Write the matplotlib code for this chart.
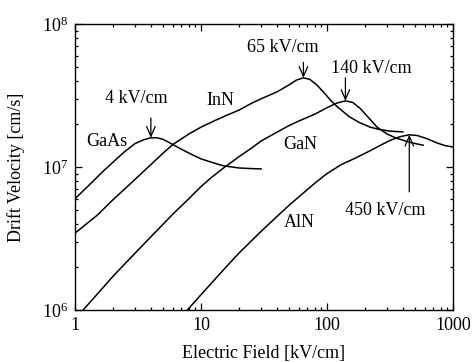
import matplotlib
matplotlib.use("Agg")
import matplotlib.pyplot as plt
import numpy as np

plt.rcParams["font.family"] = ["Liberation Serif", "DejaVu Serif"]
plt.rcParams["mathtext.fontset"] = "custom"
plt.rcParams["mathtext.rm"] = "Liberation Serif"
plt.rcParams["mathtext.it"] = "Liberation Serif:italic"

# ── data (field in kV/cm, velocity in 1e6 cm/s) ──────────────────────────────
GAAS_E = [1, 1.3, 1.6, 2, 2.5, 3, 3.5, 4, 4.5, 5, 5.7, 7, 8.5, 10, 12.5, 15, 20, 25, 30]
GAAS_V = [6.0, 7.5, 9.0, 10.8, 12.9, 14.6, 15.5, 16.0, 16.0, 15.6, 14.7, 13.3,
          12.2, 11.4, 10.7, 10.2, 9.85, 9.75, 9.7]

INN_E = [1, 1.5, 2, 3, 4, 5, 6, 8, 10, 13, 16, 20, 25, 30, 40, 50, 57, 65, 73, 83,
         95, 106, 120, 150, 180, 220, 260, 320, 400]
INN_V = [3.45, 4.6, 5.9, 8.2, 10.4, 12.5, 14.4, 17.0, 19.0, 21.2, 23.0, 25.0, 27.8,
         30.0, 33.5, 37.5, 40.5, 42.0, 41.0, 37.5, 33.0, 29.5, 26.5, 22.5, 20.5,
         19.0, 18.3, 17.8, 17.6]

GAN_E = [1.16, 1.5, 2, 3, 4, 6, 8, 10, 12, 15, 20, 25, 30, 40, 50, 60, 80, 100,
         120, 140, 160, 185, 210, 250, 300, 350, 450, 580]
GAN_V = [1.0, 1.29, 1.72, 2.5, 3.25, 4.7, 6.0, 7.3, 8.4, 9.8, 11.8, 13.5, 15.2,
         17.5, 19.5, 21.0, 23.4, 26.0, 28.0, 29.0, 28.3, 25.5, 22.5, 19.0, 17.0,
         16.0, 14.9, 14.2]

ALN_E = [7.8, 10, 15, 20, 30, 40, 50, 60, 80, 100, 130, 170, 220, 270, 320, 380,
         450, 520, 620, 750, 870, 1000]
ALN_V = [1.0, 1.28, 1.9, 2.5, 3.55, 4.5, 5.4, 6.2, 7.7, 9.0, 10.4, 11.6, 13.0,
         14.3, 15.4, 16.3, 16.8, 16.6, 15.8, 14.7, 14.1, 13.8]

CURVES = [("GaAs", GAAS_E, GAAS_V), ("InN", INN_E, INN_V),
          ("GaN", GAN_E, GAN_V), ("AlN", ALN_E, ALN_V)]

fig = plt.figure(figsize=(4.73, 3.62), dpi=100)
ax = fig.add_axes([0.1586, 0.1436, 0.7991, 0.7901])

for name, e, v in CURVES:
    ax.plot(e, np.array(v) * 1e6, color="black", lw=1.1)

ax.set_xscale("log")
ax.set_yscale("log")
ax.set_xlim(1, 1000)
ax.set_ylim(1e6, 1e8)
ax.set_xticks([1, 10, 100, 1000])
ax.set_xticklabels(["1", "10", "100", "1000"])

ax.tick_params(which="both", direction="in", top=True, right=True, labelsize=13,
               width=0.9)
ax.tick_params(which="major", length=5, pad=5)
ax.tick_params(which="minor", length=2.5)
for s in ax.spines.values():
    s.set_linewidth(1.0)

ax.set_xlabel("Electric Field [kV/cm]", fontsize=13, labelpad=8)
ax.set_ylabel("Drift Velocity [cm/s]", fontsize=13, labelpad=12)

# ── material labels ──────────────────────────────────────────────────────────
fs = 13
ax.text(1.79, 1.5e7, "GaAs", ha="center", va="center", fontsize=fs)
ax.text(14.2, 2.94e7, "InN", ha="center", va="center", fontsize=fs)
ax.text(61, 1.43e7, "GaN", ha="center", va="center", fontsize=fs)
ax.text(60, 4.1e6, "AlN", ha="center", va="center", fontsize=fs)

# ── peak field annotations ───────────────────────────────────────────────────
arrow = dict(arrowstyle="->,head_length=0.5,head_width=0.22", color="black",
             lw=0.9, shrinkA=0, shrinkB=0, mutation_scale=14)

def peak(e, v):
    i = int(np.argmax(v))
    return e[i], v[i] * 1e6

xp, yp = peak(GAAS_E, GAAS_V)
ax.annotate("", xy=(xp, yp), xytext=(xp, 2.2e7), arrowprops=arrow)
ax.text(3.05, 2.99e7, "4 kV/cm", ha="center", va="center", fontsize=fs)

xp, yp = peak(INN_E, INN_V)
ax.annotate("", xy=(xp, yp), xytext=(xp, 5.4e7), arrowprops=arrow)
ax.text(44.8, 6.8e7, "65 kV/cm", ha="center", va="center", fontsize=fs)

xp, yp = peak(GAN_E, GAN_V)
ax.annotate("", xy=(xp, yp), xytext=(xp, 4.2e7), arrowprops=arrow)
ax.text(223, 4.92e7, "140 kV/cm", ha="center", va="center", fontsize=fs)

xp, yp = peak(ALN_E, ALN_V)
ax.annotate("", xy=(xp, yp), xytext=(xp, 6.7e6), arrowprops=arrow)
ax.text(289, 5.0e6, "450 kV/cm", ha="center", va="center", fontsize=fs)

fig.savefig("out.png", dpi=100)
